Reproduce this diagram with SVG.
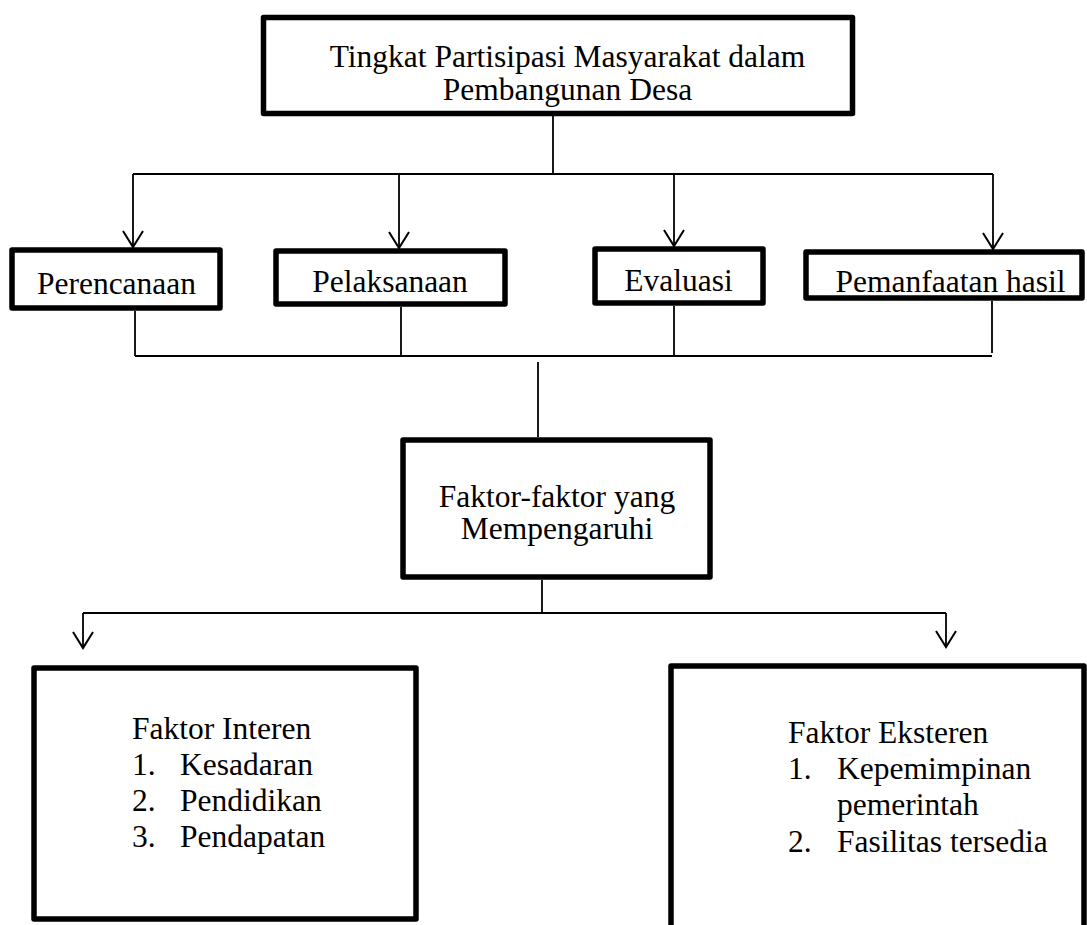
<svg xmlns="http://www.w3.org/2000/svg" width="1087" height="925" viewBox="0 0 1087 925">
<style>
.box{fill:#fff;stroke:#000;stroke-width:5.5;stroke-linejoin:round}
.t{font-family:"Liberation Serif","Times New Roman",serif;font-size:31.5px;fill:#000}
.m{text-anchor:middle}
.ln{fill:none;stroke:#000;stroke-width:1.8}
.ar{marker-end:url(#arr)}
</style>
<defs>
<marker id="arr" markerUnits="userSpaceOnUse" orient="auto" viewBox="-18 -12 20 24" refX="0" refY="0" markerWidth="20" markerHeight="24">
<path d="M-16,-10 L0,0 L-16,10" fill="none" stroke="#000" stroke-width="2"/>
</marker>
</defs>
<rect width="1087" height="925" fill="#fff"/>
<g id="connectors">
<line class="ln" x1="553" y1="116" x2="553" y2="174"/>
<line class="ln" x1="133" y1="174" x2="993" y2="174"/>
<line class="ln ar" x1="133" y1="174" x2="133" y2="247"/>
<line class="ln ar" x1="399" y1="174" x2="399" y2="248"/>
<line class="ln ar" x1="674" y1="174" x2="674" y2="246"/>
<line class="ln ar" x1="993" y1="174" x2="993" y2="249"/>
<line class="ln" x1="135" y1="311" x2="135" y2="356"/>
<line class="ln" x1="401" y1="307" x2="401" y2="357"/>
<line class="ln" x1="674" y1="306" x2="674" y2="357"/>
<line class="ln" x1="992" y1="301" x2="992" y2="353"/>
<line class="ln" x1="135" y1="356" x2="992" y2="356"/>
<line class="ln" x1="538" y1="362" x2="538" y2="437"/>
<line class="ln" x1="542" y1="580" x2="542" y2="613"/>
<line class="ln" x1="83" y1="613" x2="946" y2="613"/>
<line class="ln ar" x1="83" y1="613" x2="83" y2="648"/>
<line class="ln ar" x1="946" y1="613" x2="946" y2="647"/>
</g>
<g id="node-tingkat">
<rect class="box" x="263.5" y="17.5" width="589" height="96"/>
<text class="t m" x="567.5" y="67">Tingkat Partisipasi Masyarakat dalam</text>
<text class="t m" x="567.5" y="100">Pembangunan Desa</text>
</g>
<g id="node-perencanaan">
<rect class="box" x="12" y="250" width="208" height="58"/>
<text class="t m" x="116.5" y="294">Perencanaan</text>
</g>
<g id="node-pelaksanaan">
<rect class="box" x="276" y="251" width="229" height="53"/>
<text class="t m" x="390" y="292">Pelaksanaan</text>
</g>
<g id="node-evaluasi">
<rect class="box" x="595" y="249" width="168" height="54"/>
<text class="t m" x="678.5" y="291">Evaluasi</text>
</g>
<g id="node-pemanfaatan">
<rect class="box" x="806" y="252" width="276" height="46"/>
<text class="t m" x="950.5" y="292">Pemanfaatan hasil</text>
</g>
<g id="node-faktor">
<rect class="box" x="403" y="440" width="307" height="137"/>
<text class="t m" x="557" y="507">Faktor-faktor yang</text>
<text class="t m" x="557" y="539">Mempengaruhi</text>
</g>
<g id="node-interen">
<rect class="box" x="34" y="668" width="382" height="251"/>
<text class="t" x="132" y="739">Faktor Interen</text>
<text class="t" x="132" y="775">1.</text><text class="t" x="180" y="775">Kesadaran</text>
<text class="t" x="132" y="811">2.</text><text class="t" x="180" y="811">Pendidikan</text>
<text class="t" x="132" y="847">3.</text><text class="t" x="180" y="847">Pendapatan</text>
</g>
<g id="node-eksteren">
<rect class="box" x="671" y="666" width="413" height="300"/>
<text class="t" x="788" y="743">Faktor Eksteren</text>
<text class="t" x="788" y="779">1.</text><text class="t" x="837" y="779">Kepemimpinan</text>
<text class="t" x="837" y="815">pemerintah</text>
<text class="t" x="788" y="852">2.</text><text class="t" x="837" y="852">Fasilitas tersedia</text>
</g>
</svg>
